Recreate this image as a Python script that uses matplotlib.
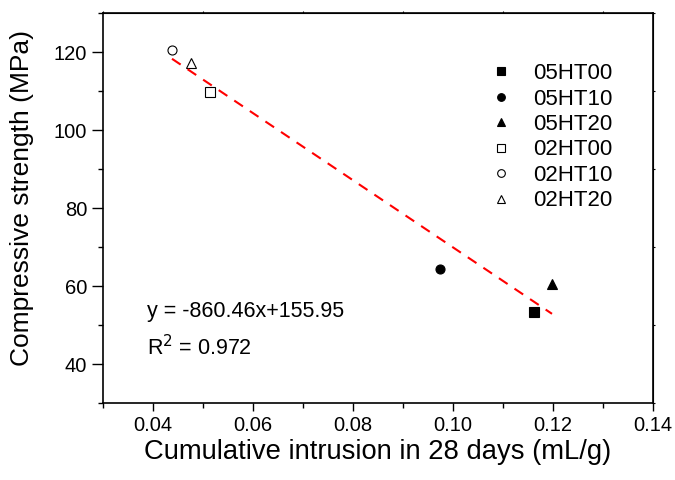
import matplotlib.pyplot as plt
import numpy as np

plt.rcParams['font.family'] = ['Liberation Sans', 'DejaVu Sans']

labels = ['05HT00', '05HT10', '05HT20', '02HT00', '02HT10', '02HT20']
intrusion = [0.1162, 0.0974, 0.1198, 0.0515, 0.0438, 0.0476]
strength = [53.3, 64.3, 60.6, 109.8, 120.5, 117.2]
markers = ['s', 'o', '^', 's', 'o', '^']
filled = [True, True, True, False, False, False]

slope = -860.46
intercept = 155.95
fitRange = [0.0438, 0.1198]

def main():
    fig = plt.figure(figsize=(6.75, 4.8), dpi=100)
    ax = fig.add_axes([103 / 675, 1 - 403 / 480, 550 / 675, 390 / 480])

    for x, y, lab, m, f in zip(intrusion, strength, labels, markers, filled):
        ax.plot(x, y, linestyle='none', marker=m, markersize=6.5,
                markerfacecolor='black' if f else 'white',
                markeredgecolor='black', markeredgewidth=0.8, label=lab)

    fx = np.array(fitRange)
    ax.plot(fx, slope * fx + intercept, color='red', linestyle=(0, (5, 4)), linewidth=1.5)

    ax.set_xlim(0.03, 0.14)
    ax.set_ylim(30, 130)
    ax.set_xticks([0.04, 0.06, 0.08, 0.10, 0.12, 0.14])
    ax.set_xticklabels(['0.04', '0.06', '0.08', '0.10', '0.12', '0.14'])
    ax.set_xticks(np.arange(0.03, 0.1401, 0.01), minor=True)
    ax.set_yticks([40, 60, 80, 100, 120])
    ax.set_yticks(np.arange(30, 131, 10), minor=True)
    ax.tick_params(which='major', direction='out', length=6, width=1, labelsize=14.5)
    ax.tick_params(which='minor', direction='out', length=3.5, width=1)
    ax.tick_params(axis='y', which='major', length=8)
    for s in ax.spines.values():
        s.set_linewidth(1.2)

    top = ax.secondary_xaxis('top')
    top.set_xticks(ax.get_xticks(minor=True))
    top.tick_params(direction='out', length=1.5, labeltop=False)
    right = ax.secondary_yaxis('right')
    right.set_yticks(ax.get_yticks(minor=True))
    right.tick_params(direction='out', length=1.5, labelright=False)

    ax.set_xlabel('Cumulative intrusion in 28 days (mL/g)', fontsize=19.7, labelpad=3)
    ax.set_ylabel('Compressive strength (MPa)', fontsize=19)
    ax.yaxis.set_label_coords(-0.125, 0.525)

    ax.text(0.0388, 53.4, 'y = -860.46x+155.95', fontsize=15.5, va='center')
    ax.text(0.0388, 44.2, 'R$^2$ = 0.972', fontsize=15.5, va='center')

    ax.legend(loc='upper left', bbox_to_anchor=(0.673, 0.90), frameon=False, fontsize=16,
              markerscale=0.85, handletextpad=0.7, labelspacing=0.2, handlelength=1.5,
              borderpad=0)

    plt.savefig('out.png', dpi=100)

if (__name__ == "__main__"):
    main()
